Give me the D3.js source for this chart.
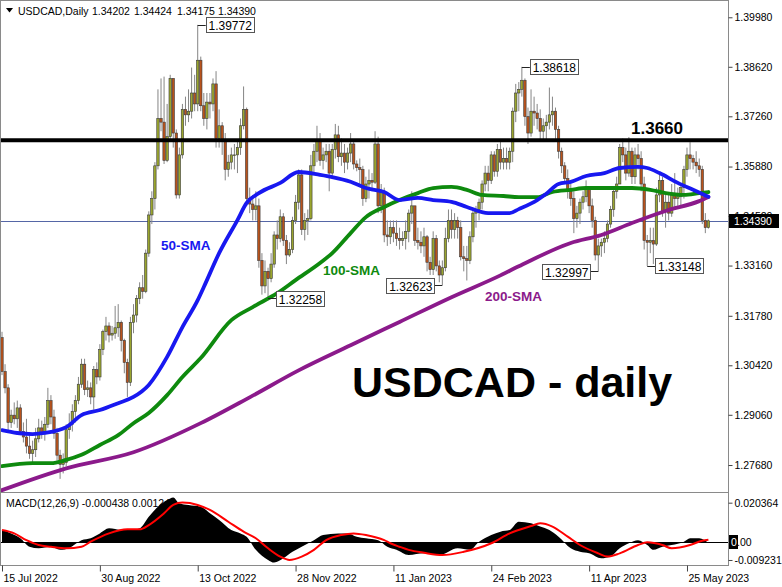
<!DOCTYPE html>
<html><head><meta charset="utf-8">
<script src="https://cdn.jsdelivr.net/npm/d3@7"></script>
<style>html,body{margin:0;padding:0;background:#fff;}svg{display:block;font-family:"Liberation Sans",Arial,sans-serif;}</style>
</head><body><div id="chart"></div>
<script>
// ---------- DATA (USDCAD daily, 15 Jul 2022 .. 5 Jun 2023, bar index 0..231) ----------
const symbolTitle = "USDCAD,Daily";
const firstOpen = 1.3118;
const closes = [
1.3025,1.2980,1.2885,1.2905,1.2895,1.2925,1.2860,1.2845,1.2820,1.2800,
1.2810,1.2840,1.2870,1.2855,1.2880,1.2945,1.2900,1.2855,1.2795,1.2770,
1.2775,1.2865,1.2880,1.2915,1.2945,1.2990,1.3045,1.2975,1.2980,1.2955,
1.3030,1.3010,1.3085,1.3135,1.3150,1.3125,1.3130,1.3145,1.3160,1.3110,
1.3050,1.2995,1.3160,1.3180,1.3225,1.3255,1.3245,1.3350,1.3455,1.3500,
1.3590,1.3720,1.3710,1.3605,1.3670,1.3830,1.3680,1.3510,1.3620,1.3745,
1.3730,1.3740,1.3790,1.3760,1.3880,1.3755,1.3720,1.3765,1.3760,1.3815,
1.3665,1.3700,1.3660,1.3580,1.3600,1.3620,1.3620,1.3640,1.3700,1.3745,
1.3500,1.3485,1.3470,1.3480,1.3330,1.3260,1.3300,1.3280,1.3320,1.3400,
1.3390,1.3450,1.3385,1.3345,1.3360,1.3440,1.3490,1.3565,1.3415,1.3440,
1.3445,1.3590,1.3630,1.3660,1.3605,1.3620,1.3630,1.3570,1.3635,1.3675,
1.3615,1.3625,1.3600,1.3625,1.3650,1.3595,1.3585,1.3580,1.3500,1.3540,
1.3550,1.3545,1.3650,1.3480,1.3520,1.3400,1.3395,1.3420,1.3405,1.3390,
1.3385,1.3390,1.3410,1.3460,1.3480,1.3385,1.3380,1.3370,1.3395,1.3325,
1.3305,1.3390,1.3315,1.3290,1.3310,1.3390,1.3440,1.3415,1.3440,1.3420,
1.3340,1.3335,1.3330,1.3395,1.3460,1.3470,1.3490,1.3540,1.3570,1.3550,
1.3620,1.3575,1.3635,1.3600,1.3610,1.3600,1.3630,1.3740,1.3790,1.3800,
1.3825,1.3725,1.3680,1.3740,1.3735,1.3720,1.3685,1.3700,1.3710,1.3730,
1.3740,1.3690,1.3630,1.3590,1.3555,1.3520,1.3500,1.3445,1.3460,1.3490,
1.3505,1.3525,1.3480,1.3440,1.3345,1.3370,1.3380,1.3390,1.3430,1.3470,
1.3520,1.3540,1.3640,1.3620,1.3570,1.3630,1.3560,1.3620,1.3610,1.3540,
1.3385,1.3380,1.3385,1.3375,1.3510,1.3550,1.3465,1.3490,1.3460,1.3510,
1.3500,1.3505,1.3530,1.3580,1.3620,1.3610,1.3600,1.3590,1.3580,1.3440,
1.34202,1.34390];
const highs = [
1.3134,1.3045,1.2990,1.2920,1.2940,1.2945,1.2935,1.2885,1.2895,1.2850,
1.2835,1.2870,1.2895,1.2890,1.2900,1.2980,1.2960,1.2920,1.2870,1.2810,
1.2800,1.2880,1.2910,1.2935,1.2960,1.3010,1.3060,1.3060,1.3000,1.2995,
1.3040,1.3050,1.3100,1.3140,1.3175,1.3160,1.3150,1.3205,1.3210,1.3165,
1.3115,1.3060,1.3175,1.3210,1.3235,1.3270,1.3290,1.3360,1.3465,1.3520,
1.3600,1.3800,1.3830,1.3835,1.3760,1.3840,1.3830,1.3690,1.3640,1.3760,
1.3780,1.3800,1.3860,1.3840,1.39772,1.3890,1.3790,1.3790,1.3790,1.3830,
1.3850,1.3745,1.3710,1.3680,1.3620,1.3640,1.3650,1.3660,1.3720,1.3808,
1.3750,1.3530,1.3510,1.3520,1.3500,1.3350,1.3330,1.3310,1.3350,1.3410,
1.3440,1.3470,1.3460,1.3400,1.3380,1.3450,1.3510,1.3580,1.3580,1.3460,
1.3470,1.3620,1.3650,1.3700,1.3680,1.3640,1.3650,1.3650,1.3650,1.3705,
1.3700,1.3665,1.3650,1.3640,1.3680,1.3660,1.3605,1.3610,1.3590,1.3560,
1.3580,1.3570,1.3685,1.3670,1.3540,1.3530,1.3440,1.3440,1.3440,1.3440,
1.3420,1.3410,1.3440,1.3470,1.3520,1.3480,1.3420,1.3410,1.3420,1.3400,
1.3340,1.3410,1.3400,1.3330,1.3330,1.3420,1.3470,1.3470,1.3460,1.3450,
1.3440,1.3370,1.3370,1.3410,1.3470,1.3480,1.3500,1.3550,1.3590,1.3590,
1.3630,1.3630,1.3650,1.3660,1.3640,1.3640,1.3640,1.3750,1.3815,1.3820,
1.38618,1.3830,1.3750,1.3800,1.3780,1.3760,1.3745,1.3720,1.3730,1.3805,
1.3780,1.3750,1.3700,1.3640,1.3600,1.3580,1.3540,1.3520,1.3480,1.3500,
1.3520,1.3550,1.3530,1.3500,1.3450,1.3390,1.3390,1.3410,1.3440,1.3480,
1.3530,1.3560,1.3650,1.3665,1.3640,1.3669,1.3640,1.3640,1.3650,1.3630,
1.3560,1.3400,1.3420,1.3420,1.3530,1.3570,1.3560,1.3510,1.3510,1.3540,
1.3570,1.3530,1.3540,1.3590,1.3640,1.3655,1.3620,1.3630,1.3610,1.3590,
1.3460,1.34424];
const lows = [
1.3015,1.2965,1.2860,1.2870,1.2880,1.2870,1.2850,1.2830,1.2800,1.2785,
1.2770,1.2790,1.2830,1.2840,1.2835,1.2870,1.2880,1.2840,1.2780,1.2730,
1.2745,1.2765,1.2840,1.2860,1.2885,1.2935,1.2980,1.2960,1.2955,1.2935,
1.2920,1.2990,1.3000,1.3070,1.3110,1.3105,1.3110,1.3115,1.3120,1.3080,
1.3020,1.2955,1.2985,1.3130,1.3160,1.3210,1.3225,1.3240,1.3340,1.3430,
1.3470,1.3580,1.3685,1.3595,1.3600,1.3660,1.3640,1.3500,1.3500,1.3610,
1.3700,1.3710,1.3720,1.3740,1.3740,1.3740,1.3700,1.3690,1.3720,1.3740,
1.3640,1.3640,1.3620,1.3550,1.3560,1.3580,1.3580,1.3570,1.3620,1.3690,
1.3480,1.3460,1.3440,1.3440,1.3310,1.3236,1.3240,1.32258,1.3270,1.3310,
1.3360,1.3380,1.3370,1.3320,1.3340,1.3350,1.3430,1.3470,1.3400,1.3385,
1.3400,1.3440,1.3570,1.3600,1.3590,1.3580,1.3600,1.3520,1.3560,1.3610,
1.3600,1.3590,1.3570,1.3580,1.3600,1.3580,1.3575,1.3540,1.3480,1.3490,
1.3500,1.3520,1.3540,1.3460,1.3460,1.3380,1.3370,1.3375,1.3380,1.3370,
1.3360,1.3370,1.3360,1.3380,1.3430,1.3370,1.3360,1.3350,1.3340,1.3300,
1.3290,1.3290,1.3300,1.3270,1.32623,1.3300,1.3380,1.3390,1.3390,1.3390,
1.3330,1.3300,1.3275,1.3320,1.3380,1.3420,1.3440,1.3470,1.3520,1.3520,
1.3540,1.3560,1.3560,1.3580,1.3580,1.3580,1.3580,1.3600,1.3710,1.3740,
1.3780,1.3700,1.3650,1.3670,1.3700,1.3690,1.3660,1.3660,1.3660,1.3690,
1.3700,1.3660,1.3610,1.3570,1.3540,1.3500,1.3480,1.3405,1.3420,1.3430,
1.3470,1.3490,1.3460,1.3420,1.3330,1.32997,1.3340,1.3350,1.3380,1.3420,
1.3450,1.3500,1.3540,1.3600,1.3550,1.3560,1.3540,1.3540,1.3580,1.3520,
1.3360,1.33148,1.3350,1.3320,1.3370,1.3490,1.3450,1.3420,1.3440,1.3450,
1.3470,1.3480,1.3480,1.3500,1.3560,1.3580,1.3580,1.3570,1.3560,1.3430,
1.3405,1.34175];

// moving averages (bar index, price)
const sma50Idx = [0,5,10,14,21,26,32,38,43,48,54,59,64,66,71,77,80,84,91,97,104,108,114,119,125,130,136,141,147,152,159,166,169,175,178,182,186,191,197,202,208,211,215,221,226,231];
const sma50Val = [1.2864,1.2856,1.2853,1.2856,1.2872,1.2905,1.2919,1.2938,1.2955,1.2988,1.3065,1.3147,1.3221,1.3257,1.3350,1.3441,1.3488,1.3515,1.3543,1.3573,1.3565,1.3559,1.3546,1.3529,1.3518,1.3496,1.3502,1.3496,1.3491,1.3477,1.3460,1.3460,1.3471,1.3496,1.3513,1.3540,1.3546,1.3562,1.3570,1.3584,1.3587,1.3584,1.3570,1.3543,1.3524,1.3505];
const sma100Idx = [0,10,16,21,26,32,38,43,48,54,59,65,75,82,90,96,104,108,114,119,125,130,136,141,147,152,157,164,169,175,180,186,191,197,202,206,212,217,223,228,231];
const sma100Val = [1.2765,1.2773,1.2773,1.2782,1.2796,1.2823,1.2850,1.2883,1.2911,1.2960,1.3010,1.3062,1.3166,1.3202,1.3240,1.3276,1.3323,1.3350,1.3405,1.3449,1.3477,1.3496,1.3515,1.3529,1.3532,1.3524,1.3510,1.3507,1.3504,1.3504,1.3518,1.3524,1.3529,1.3529,1.3529,1.3529,1.3524,1.3515,1.3510,1.3515,1.3518];
const sma200Idx = [0,21,43,65,81,97,114,130,147,163,169,186,196,206,217,228,231];
const sma200Val = [1.2699,1.2759,1.2803,1.2883,1.2954,1.3028,1.3097,1.3161,1.3229,1.3289,1.3314,1.3378,1.3400,1.3433,1.3466,1.3493,1.3504];

// MACD(12,26,9): histogram (main) and signal line
const macdIdx = [0,3,6,9,12,16,19,22,26,29,32,35,39,42,45,48,51,54,56,58,61,65,68,71,75,78,80,83,87,89,92,95,98,102,105,110,113,116,119,123,126,129,133,138,143,149,153,156,160,163,166,169,173,176,179,182,186,189,192,196,199,202,205,208,211,213,216,219,223,225,228,231];
const macdVal = [0.0063,0.0045,0.0020,-0.0024,-0.0032,-0.0024,-0.0040,-0.0030,0.0010,0.0020,0.0045,0.0071,0.0062,0.0062,0.0071,0.0131,0.0183,0.0217,0.0231,0.0200,0.0192,0.0183,0.0149,0.0114,0.0062,0.0045,0.0028,-0.0040,-0.0092,-0.0106,-0.0084,-0.0050,-0.0024,0.0010,0.0037,0.0045,0.0045,0.0028,0.0020,0.0010,-0.0024,-0.0040,-0.0067,-0.0058,-0.0067,-0.0032,-0.0040,0.0002,0.0037,0.0054,0.0062,0.0105,0.0097,0.0080,0.0062,0.0028,-0.0032,-0.0050,-0.0058,-0.0084,-0.0075,-0.0032,-0.0006,0.0010,-0.0015,-0.0040,-0.0024,-0.0015,0.0002,0.0020,0.0020,-0.0004];
const sigIdx = [0,4,8,12,16,21,26,29,35,41,45,48,53,56,59,64,68,74,79,83,87,91,94,98,102,106,111,115,119,125,127,130,133,138,144,151,160,166,173,176,180,185,189,195,198,202,208,211,216,219,225,229,231];
const sigVal = [0.0062,0.0045,0.0010,-0.0015,-0.0024,-0.0032,-0.0024,0.0002,0.0045,0.0066,0.0066,0.0088,0.0149,0.0192,0.0204,0.0192,0.0166,0.0105,0.0054,0.0020,-0.0032,-0.0075,-0.0092,-0.0075,-0.0040,0.0010,0.0037,0.0045,0.0037,0.0010,-0.0006,-0.0024,-0.0040,-0.0055,-0.0067,-0.0050,-0.0006,0.0045,0.0083,0.0097,0.0080,0.0028,-0.0015,-0.0058,-0.0075,-0.0058,-0.0015,-0.0001,-0.0015,-0.0032,-0.0015,0.0007,0.0012];
const macdTitle = "MACD(12,26,9) -0.000438 0.001240";

// axes
const priceTicks = [1.39980,1.38620,1.37260,1.35880,1.34520,1.33160,1.31780,1.30420,1.29060,1.27680];
const macdTicks = [0.020364,-0.009231];
const xTickIdx = [0,32,64,96,128,160,192,224];
const xTickLabels = ["15 Jul 2022","30 Aug 2022","13 Oct 2022","28 Nov 2022","11 Jan 2023","24 Feb 2023","11 Apr 2023","25 May 2023"];

// annotations
const levelValue = 1.3660;
const annIdx = [64,170,87,144,195,211];
const annPrice = [1.39772,1.38618,1.32258,1.32623,1.32997,1.33148];
const annSide = [1,1,1,-1,-1,1];
const maLabels = ["50-SMA","100-SMA","200-SMA"];
const bigTitle = "USDCAD - daily";

// ---------- DRAW ----------
const W=782,H=587;
const axisX=728, mainBottom=492, macdTop=493, macdBottom=565;
const svg=d3.select('#chart').append('svg').attr('width',W).attr('height',H);
svg.append('rect').attr('width',W).attr('height',H).attr('fill','#fff');

const x=d3.scaleLinear().domain([0,231]).range([2,2+231*3.058]);
const y=d3.scaleLinear().domain([1.26939,1.40455]).range([mainBottom,0]);
const ym=d3.scaleLinear().domain([-0.011829,0.025362]).range([macdBottom,macdTop]);

const defs=svg.append('defs');
defs.append('clipPath').attr('id','cm').append('rect').attr('x',0).attr('y',0).attr('width',axisX).attr('height',mainBottom);
defs.append('clipPath').attr('id','cd').append('rect').attr('x',0).attr('y',macdTop).attr('width',axisX).attr('height',macdBottom-macdTop);

const main=svg.append('g').attr('clip-path','url(#cm)');
const lastC=closes[closes.length-1];

// current price line
main.append('line').attr('x1',0).attr('x2',axisX).attr('y1',Math.round(y(lastC))+0.5).attr('y2',Math.round(y(lastC))+0.5)
  .attr('stroke','#5566a6').attr('stroke-width',1);

// candles
const candles=closes.map((c,i)=>{const o=i===0?firstOpen:closes[i-1];return {i,o,c,h:Math.max(highs[i],o,c),l:Math.min(lows[i],o,c)};});
const cg=main.append('g');
cg.selectAll('line.w').data(candles).join('line').attr('class','w')
  .attr('x1',d=>x(d.i)).attr('x2',d=>x(d.i)).attr('y1',d=>y(d.h)).attr('y2',d=>y(d.l))
  .attr('stroke','#858585').attr('stroke-width',1);
cg.selectAll('rect.b').data(candles).join('rect').attr('class','b')
  .attr('x',d=>x(d.i)-1.2).attr('width',2.4)
  .attr('y',d=>y(Math.max(d.o,d.c)))
  .attr('height',d=>Math.max(0.8,Math.abs(y(d.o)-y(d.c))))
  .attr('fill',d=>d.c>=d.o?'#9aa52e':'#b9531c')
  .attr('stroke','#3a3a3a').attr('stroke-width',0.6);

// moving averages
function maLine(idx,val,color){
  const pts=idx.map((d,k)=>[d,val[k]]);
  main.append('path').datum(pts)
    .attr('d',d3.line().x(d=>x(d[0])).y(d=>y(d[1])).curve(d3.curveMonotoneX))
    .attr('fill','none').attr('stroke',color).attr('stroke-width',3.8).attr('stroke-linejoin','round').attr('stroke-linecap','round');
}
maLine(sma200Idx,sma200Val,'#8b1a8b');
maLine(sma100Idx,sma100Val,'#0e8a0e');
maLine(sma50Idx,sma50Val,'#1818f0');

// 1.3660 level
main.append('line').attr('x1',0).attr('x2',axisX).attr('y1',y(levelValue)).attr('y2',y(levelValue))
  .attr('stroke','#000').attr('stroke-width',4);
svg.append('text').attr('x',657).attr('y',y(levelValue)-6).attr('text-anchor','middle')
  .attr('font-size','17px').attr('font-weight','bold').attr('fill','#000').text(d3.format('.4f')(levelValue));

// MA labels
const maLabelPos=[[161,250,'#1818f0'],[323,275,'#0e8a0e'],[485,301,'#8b1a8b']];
maLabels.forEach((t,k)=>{
  svg.append('text').attr('x',maLabelPos[k][0]).attr('y',maLabelPos[k][1]).attr('font-size','13.5px')
    .attr('font-weight','bold').attr('fill',maLabelPos[k][2]).text(t);
});

// annotation boxes
annIdx.forEach((idx,k)=>{
  const cx=x(idx), cy=y(annPrice[k]), side=annSide[k];
  const bw=48,bh=15,gap=8;
  const bx=side>0?cx+gap:cx-gap-bw;
  svg.append('line').attr('x1',cx).attr('x2',side>0?bx:bx+bw).attr('y1',Math.round(cy)+0.5).attr('y2',Math.round(cy)+0.5)
    .attr('stroke','#222').attr('stroke-width',1);
  svg.append('rect').attr('x',Math.round(bx)+0.5).attr('y',Math.round(cy-bh/2)+0.5).attr('width',bw).attr('height',bh)
    .attr('fill','#fff').attr('stroke','#555').attr('stroke-width',1);
  svg.append('text').attr('x',bx+bw/2+0.5).attr('y',Math.round(cy-bh/2)+12.5).attr('text-anchor','middle')
    .attr('font-size','12px').attr('fill','#000').text(d3.format('.5f')(annPrice[k]));
});

// big title
svg.append('text').attr('x',352).attr('y',397).attr('font-size','43px').attr('font-weight','bold')
  .attr('fill','#000').text(bigTitle);

// header
svg.append('path').attr('d','M6,8 L13,8 L9.5,12.5 Z').attr('fill','#000');
svg.append('text').attr('x',18).attr('y',15).attr('font-size','10.5px').attr('fill','#000').text(symbolTitle);
const last=candles[candles.length-1];
const hdrVals=[last.o,last.h,last.l,last.c];
const hdrX=[92,134,177,218];
hdrVals.forEach((v,k)=>svg.append('text').attr('x',hdrX[k]).attr('y',15).attr('font-size','10.5px').attr('fill','#000').text(v.toFixed(5)));

// ---------- MACD panel ----------
svg.append('text').attr('x',6).attr('y',507).attr('font-size','10.5px').attr('fill','#000').text(macdTitle);
const mg=svg.append('g').attr('clip-path','url(#cd)');
const hist=macdIdx.map((d,k)=>[d,macdVal[k]]);
mg.append('path').datum(hist)
  .attr('d',d3.area().x(d=>x(d[0])).y0(ym(0)).y1(d=>ym(d[1])).curve(d3.curveMonotoneX))
  .attr('fill','#000');
mg.append('line').attr('x1',0).attr('x2',axisX).attr('y1',Math.round(ym(0))+0.5).attr('y2',Math.round(ym(0))+0.5)
  .attr('stroke','#000').attr('stroke-width',1);
const sig=sigIdx.map((d,k)=>[d,sigVal[k]]);
mg.append('path').datum(sig)
  .attr('d',d3.line().x(d=>x(d[0])).y(d=>ym(d[1])).curve(d3.curveMonotoneX))
  .attr('fill','none').attr('stroke','#ff0000').attr('stroke-width',2);

// ---------- frames ----------
const fc='#8a8a8a';
svg.append('line').attr('x1',0.5).attr('x2',0.5).attr('y1',0).attr('y2',macdBottom).attr('stroke',fc);
svg.append('line').attr('x1',0).attr('x2',axisX).attr('y1',0.5).attr('y2',0.5).attr('stroke',fc);
svg.append('line').attr('x1',0).attr('x2',axisX).attr('y1',mainBottom+0.5).attr('y2',mainBottom+0.5).attr('stroke',fc);
svg.append('line').attr('x1',0).attr('x2',axisX+1).attr('y1',macdBottom+0.5).attr('y2',macdBottom+0.5).attr('stroke',fc);
svg.append('line').attr('x1',axisX+0.5).attr('x2',axisX+0.5).attr('y1',0).attr('y2',macdBottom+1).attr('stroke',fc);

// right price axis
const ay=svg.append('g').attr('transform',`translate(${axisX+0.5},0)`)
  .call(d3.axisRight(y).tickValues(priceTicks).tickSize(4).tickPadding(2).tickFormat(d=>d.toFixed(5)));
ay.select('.domain').remove();
ay.selectAll('line').attr('stroke','#444');
ay.selectAll('text').attr('font-size','10.5px').attr('font-family','"Liberation Sans",Arial,sans-serif').attr('fill','#000');

// current price tag
svg.append('rect').attr('x',axisX+1).attr('y',Math.round(y(lastC))-7).attr('width',50).attr('height',14).attr('fill','#000');
svg.append('text').attr('x',axisX+6).attr('y',Math.round(y(lastC))+4).attr('font-size','10.5px').attr('fill','#fff').text(lastC.toFixed(5));

// MACD axis
const am=svg.append('g').attr('transform',`translate(${axisX+0.5},0)`)
  .call(d3.axisRight(ym).tickValues(macdTicks).tickSize(4).tickPadding(2).tickFormat(d=>d.toFixed(6)));
am.select('.domain').remove();
am.selectAll('line').attr('stroke','#444');
am.selectAll('text').attr('font-size','10.5px').attr('font-family','"Liberation Sans",Arial,sans-serif').attr('fill','#000');
svg.append('rect').attr('x',axisX+1).attr('y',Math.round(ym(0))-7).attr('width',9).attr('height',14).attr('fill','#000');
svg.append('text').attr('x',axisX+3).attr('y',Math.round(ym(0))+4).attr('font-size','10.5px').attr('fill','#fff').text('0');
svg.append('text').attr('x',axisX+9).attr('y',Math.round(ym(0))+4).attr('font-size','10.5px').attr('fill','#000').text('.00');

// bottom time axis
const ax=svg.append('g').attr('transform',`translate(0,${macdBottom+0.5})`)
  .call(d3.axisBottom(x).tickValues(xTickIdx).tickSize(6).tickPadding(3).tickFormat((d,i)=>xTickLabels[i]));
ax.select('.domain').remove();
ax.selectAll('line').attr('stroke','#444');
ax.selectAll('text').attr('text-anchor','start').attr('dx','1').attr('font-size','10.5px')
  .attr('font-family','"Liberation Sans",Arial,sans-serif').attr('fill','#000');
</script></body></html>
